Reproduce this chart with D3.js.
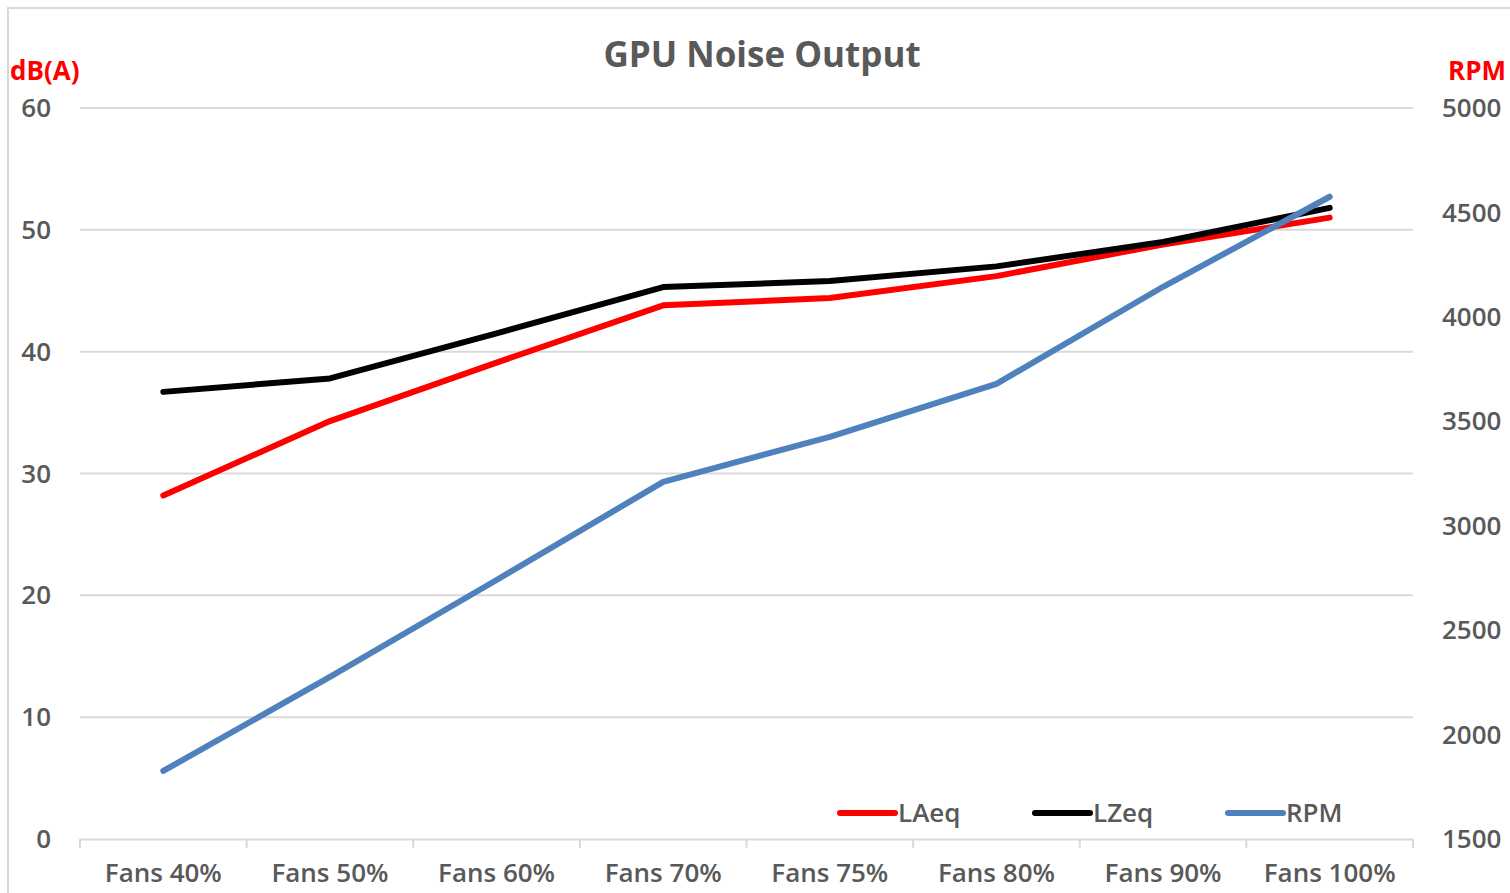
<!DOCTYPE html>
<html>
<head>
<meta charset="utf-8">
<script src="https://cdn.jsdelivr.net/npm/d3@7"></script>
<style>
  body { margin: 0; background: #fff; }
  text { font-family: "Open Sans", sans-serif; }
</style>
</head>
<body>
<svg id="chart" width="1510" height="893"></svg>
<script>
// data
const categories = ["Fans 40%", "Fans 50%", "Fans 60%", "Fans 70%", "Fans 75%", "Fans 80%", "Fans 90%", "Fans 100%"];
const laeq = [28.2, 34.3, 39.1, 43.8, 44.4, 46.2, 48.8, 51.0];
const lzeq = [36.7, 37.8, 41.5, 45.3, 45.8, 47.0, 49.0, 51.8];
const rpm = [1826, 2276, 2740, 3210, 3425, 3679, 4144, 4575];
const leftTicks = [0, 10, 20, 30, 40, 50, 60];
const rightTicks = [1500, 2000, 2500, 3000, 3500, 4000, 4500, 5000];

const svg = d3.select("#chart");
const margin = { left: 80, right: 97, top: 108, bottom: 54 };
const width = 1510, height = 893;

// frame
svg.append("rect")
    .attr("x", 8).attr("y", 8)
    .attr("width", width + 10).attr("height", height + 10)
    .attr("fill", "none")
    .attr("stroke", "#d9d9d9")
    .attr("stroke-width", 2);

const x = d3.scaleBand()
    .domain(categories)
    .range([margin.left, width - margin.right]);

const yLeft = d3.scaleLinear()
    .domain([0, 60])
    .range([height - margin.bottom, margin.top]);

const yRight = d3.scaleLinear()
    .domain([1500, 5000])
    .range([height - margin.bottom, margin.top]);

// gridlines
svg.append("g")
    .selectAll("line")
    .data(leftTicks.slice(1))
    .join("line")
    .attr("x1", margin.left)
    .attr("x2", width - margin.right)
    .attr("y1", d => yLeft(d))
    .attr("y2", d => yLeft(d))
    .attr("stroke", "#d9d9d9")
    .attr("stroke-width", 2);

// x axis
const xAxis = svg.append("g")
    .attr("transform", `translate(0, ${yLeft(0)})`)
    .call(d3.axisBottom(x).tickSize(0).tickPadding(25));
xAxis.select(".domain").attr("stroke", "#d9d9d9").attr("stroke-width", 2);
xAxis.selectAll("text")
    .attr("fill", "#595959")
    .style("font-size", "26px")
    .style("font-weight", "600")
    .style("font-family", "Open Sans");
// band boundary ticks
xAxis.selectAll(".bound")
    .data(d3.range(categories.length + 1))
    .join("line")
    .attr("class", "bound")
    .attr("x1", i => margin.left + i * x.step())
    .attr("x2", i => margin.left + i * x.step())
    .attr("y1", 0).attr("y2", 9)
    .attr("stroke", "#d9d9d9")
    .attr("stroke-width", 2);

// left axis labels
svg.append("g")
    .selectAll("text")
    .data(leftTicks)
    .join("text")
    .attr("x", 51)
    .attr("y", d => yLeft(d))
    .attr("dy", "0.35em")
    .attr("text-anchor", "end")
    .attr("fill", "#595959")
    .style("font-size", "26px")
    .style("font-weight", "600")
    .text(d => d);

// right axis labels
svg.append("g")
    .selectAll("text")
    .data(rightTicks)
    .join("text")
    .attr("x", 1442)
    .attr("y", d => yRight(d))
    .attr("dy", "0.35em")
    .attr("text-anchor", "start")
    .attr("fill", "#595959")
    .style("font-size", "26px")
    .style("font-weight", "600")
    .text(d => d);

// axis titles
svg.append("text")
    .attr("x", 10).attr("y", 80)
    .attr("fill", "#ff0000")
    .style("font-size", "26px")
    .style("font-weight", "bold")
    .text("dB(A)");
svg.append("text")
    .attr("x", 1506).attr("y", 80)
    .attr("text-anchor", "end")
    .attr("fill", "#ff0000")
    .style("font-size", "26px")
    .style("font-weight", "bold")
    .text("RPM");

// title
svg.append("text")
    .attr("x", 762).attr("y", 67)
    .attr("text-anchor", "middle")
    .attr("fill", "#595959")
    .style("font-size", "35px")
    .style("font-weight", "bold")
    .text("GPU Noise Output");

// lines
const cx = (d, i) => x(categories[i]) + x.bandwidth() / 2;
const leftLine = d3.line().x(cx).y(d => yLeft(d));
const rightLine = d3.line().x(cx).y(d => yRight(d));

const series = [
    { name: "LAeq", values: laeq, line: leftLine, color: "#ff0000" },
    { name: "LZeq", values: lzeq, line: leftLine, color: "#000000" },
    { name: "RPM", values: rpm, line: rightLine, color: "#4f81bd" }
];

svg.append("g")
    .selectAll("path")
    .data(series)
    .join("path")
    .attr("d", d => d.line(d.values))
    .attr("fill", "none")
    .attr("stroke", d => d.color)
    .attr("stroke-width", 6)
    .attr("stroke-linecap", "round")
    .attr("stroke-linejoin", "round");

// legend
const legendX = [840, 1035, 1228];
const legend = svg.append("g")
    .selectAll("g")
    .data(series)
    .join("g")
    .attr("transform", (d, i) => `translate(${legendX[i]}, 813)`);
legend.append("line")
    .attr("x1", 0).attr("x2", 55)
    .attr("stroke", d => d.color)
    .attr("stroke-width", 6)
    .attr("stroke-linecap", "round");
legend.append("text")
    .attr("x", 58)
    .attr("dy", "0.35em")
    .attr("fill", "#595959")
    .style("font-size", "26px")
    .style("font-weight", "600")
    .text(d => d.name);
</script>
</body>
</html>
